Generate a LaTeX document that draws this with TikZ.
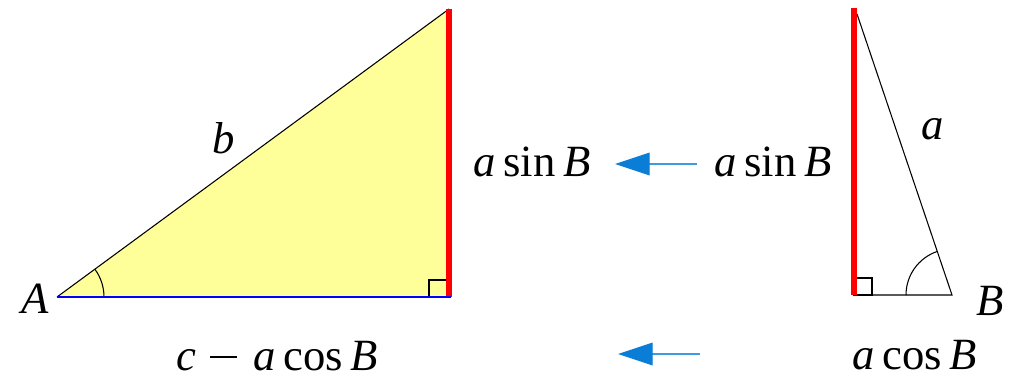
\documentclass[tikz,border=0pt]{standalone}
\usepackage{fontspec}
\setmainfont{Liberation Serif}
\usetikzlibrary{arrows.meta}
\definecolor{tri}{HTML}{FFFF99}
\definecolor{arr}{HTML}{0A7ED6}
\definecolor{arrline}{HTML}{3D9BE0}
\newcommand{\mymin}{\hspace{0.32em}\rule[0.28em]{0.6em}{0.045em}\hspace{0.38em}}
\tikzset{
  lbl/.style={font=\fontsize{33.5}{38}\selectfont, inner sep=0pt},
  thinln/.style={draw=black, line width=0.8pt},
  redln/.style={draw=red, line width=4pt},
  blueln/.style={draw=blue, line width=2pt},
  bluearrow/.style={draw=arrline, line width=0.9pt, -{Triangle[length=26pt,width=17pt,fill=arr,color=arr]}},
}
\begin{document}
\begin{tikzpicture}[x=0.75pt,y=-0.75pt]
\useasboundingbox (0,0) rectangle (1009,379);
% left triangle
\coordinate (A) at (57,297);
\coordinate (C) at (449,297);
\coordinate (T) at (449,9);
\fill[tri] (A) -- (C) -- (T) -- cycle;
\draw[thinln] (A) -- (T);
\draw[thinln] (A) ++(47,0) arc[start angle=0, end angle=36.3, radius=47*0.75pt];
\draw[thinln, line width=1pt] (429,297) rectangle (447,280);
\draw[redln] (C) -- (T);
\draw[blueln] (A) -- (451,297);
% right triangle
\coordinate (R) at (854,295);
\coordinate (B) at (952,295);
\coordinate (P) at (854,8);
\draw[thinln] (857,14) -- (B) -- (R);
\draw[thinln] (B) ++(-46,0) arc[start angle=180, end angle=108.9, radius=46*0.75pt];
\draw[thinln, line width=1pt] (854,295) rectangle (872,278);
\draw[redln] (R) -- (P);
% labels
\node[lbl] (lA) at (35,299) {\textit{A}};
\node[lbl] (lb) at (224,138) {\textit{b}};
\node[lbl] (lasin1) at (532,162) {\textit{a}\,sin\,\textit{B}};
\node[lbl] (lasin2) at (773,162) {\textit{a}\,sin\,\textit{B}};
\node[lbl] (la) at (933,129) {\textit{a}};
\node[lbl] (lB) at (990,301) {\textit{B}};
\node[lbl] (lcm) at (277,356) {\textit{c}\mymin\textit{a}\,cos\,\textit{B}};
\node[lbl] (lacos) at (915,355) {\textit{a}\,cos\,\textit{B}};
% arrows
\coordinate (a1s) at (697,164);
\coordinate (a1e) at (615,164);
\coordinate (a2s) at (700,354);
\coordinate (a2e) at (618,354);
\draw[bluearrow] (a1s) -- (a1e);
\draw[bluearrow] (a2s) -- (a2e);
\end{tikzpicture}
\end{document}
